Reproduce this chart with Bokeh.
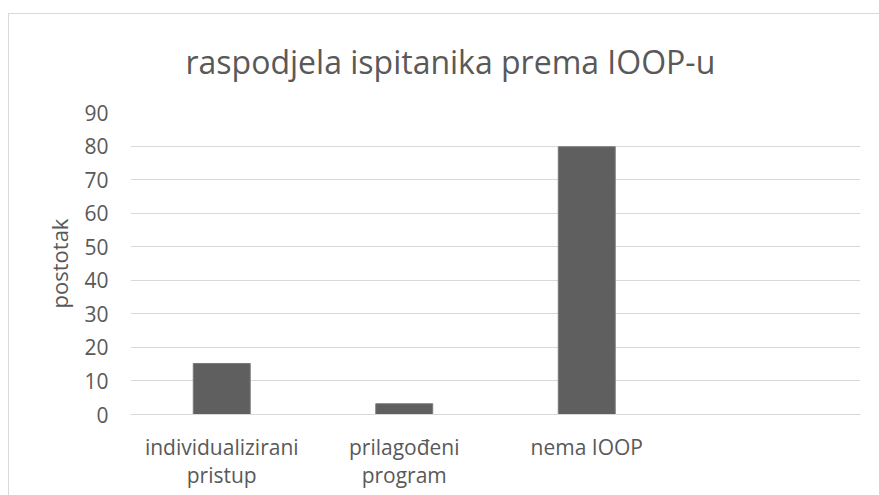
from bokeh.plotting import figure
from bokeh.models import FactorRange, Range1d, Title, FixedTicker
from bokeh.embed import file_html
from bokeh.resources import INLINE

# ---- data ----
categories = ["individualizirani\npristup", "prilagođeni\nprogram", "nema IOOP", " "]
bar_categories = ["individualizirani\npristup", "prilagođeni\nprogram", "nema IOOP"]
values = [15.2, 3.2, 79.8]
y_ticks = [0, 10, 20, 30, 40, 50, 60, 70, 80, 90]
title_text = "raspodjela ispitanika prema IOOP-u"
y_label = "postotak"

FONT = "Open Sans"
TXT = "#595959"

p = figure(
    width=871, height=489,
    x_range=FactorRange(factors=categories, range_padding=0),
    y_range=Range1d(0, 90),
    output_backend="svg", toolbar_location=None,
    min_border_left=122, min_border_right=19,
    min_border_top=106, min_border_bottom=81,
)
p.margin = (6, 0, 0, 8)
p.styles = {
    "background-image": "linear-gradient(#d9d9d9, #d9d9d9), linear-gradient(#d9d9d9, #d9d9d9)",
    "background-size": "100% 1px, 1px 100%",
    "background-position": "0 7px, 0 7px",
    "background-repeat": "no-repeat",
}
p.outline_line_color = None
p.background_fill_color = "white"
p.border_fill_color = None

p.vbar(x=bar_categories, top=values, width=0.312, bottom=0,
       fill_color="#5f5f5f", line_color="#7a7a7a", line_width=1)

t = Title(text=title_text, align="left", offset=55, standoff=60,
          text_font=FONT, text_font_size="32px", text_font_style="normal",
          text_color=TXT, vertical_align="bottom")
p.add_layout(t, "above")

# y axis
ya = p.yaxis[0]
ya.ticker = FixedTicker(ticks=y_ticks)
ya.axis_line_color = None
ya.major_tick_line_color = None
ya.minor_tick_line_color = None
ya.major_tick_out = 0
ya.major_tick_in = 0
ya.major_label_standoff = 22
ya.major_label_text_font = FONT
ya.major_label_text_font_size = "21px"
ya.major_label_text_color = TXT
ya.axis_label = y_label
ya.axis_label_standoff = 7
ya.axis_label_text_font = FONT
ya.axis_label_text_font_size = "22px"
ya.axis_label_text_font_style = "normal"
ya.axis_label_text_color = TXT

# x axis
xa = p.xaxis[0]
xa.axis_line_color = "#d9d9d9"
xa.major_tick_line_color = None
xa.minor_tick_line_color = None
xa.major_tick_out = 0
xa.major_tick_in = 0
xa.major_label_standoff = 18
xa.major_label_text_font = FONT
xa.major_label_text_font_size = "21px"
xa.major_label_text_line_height = 1.0
xa.major_label_text_color = TXT

p.xgrid.grid_line_color = None
p.ygrid.grid_line_color = "#d9d9d9"
p.ygrid.grid_line_width = 1

open("out.html", "w").write(file_html(p, INLINE))
